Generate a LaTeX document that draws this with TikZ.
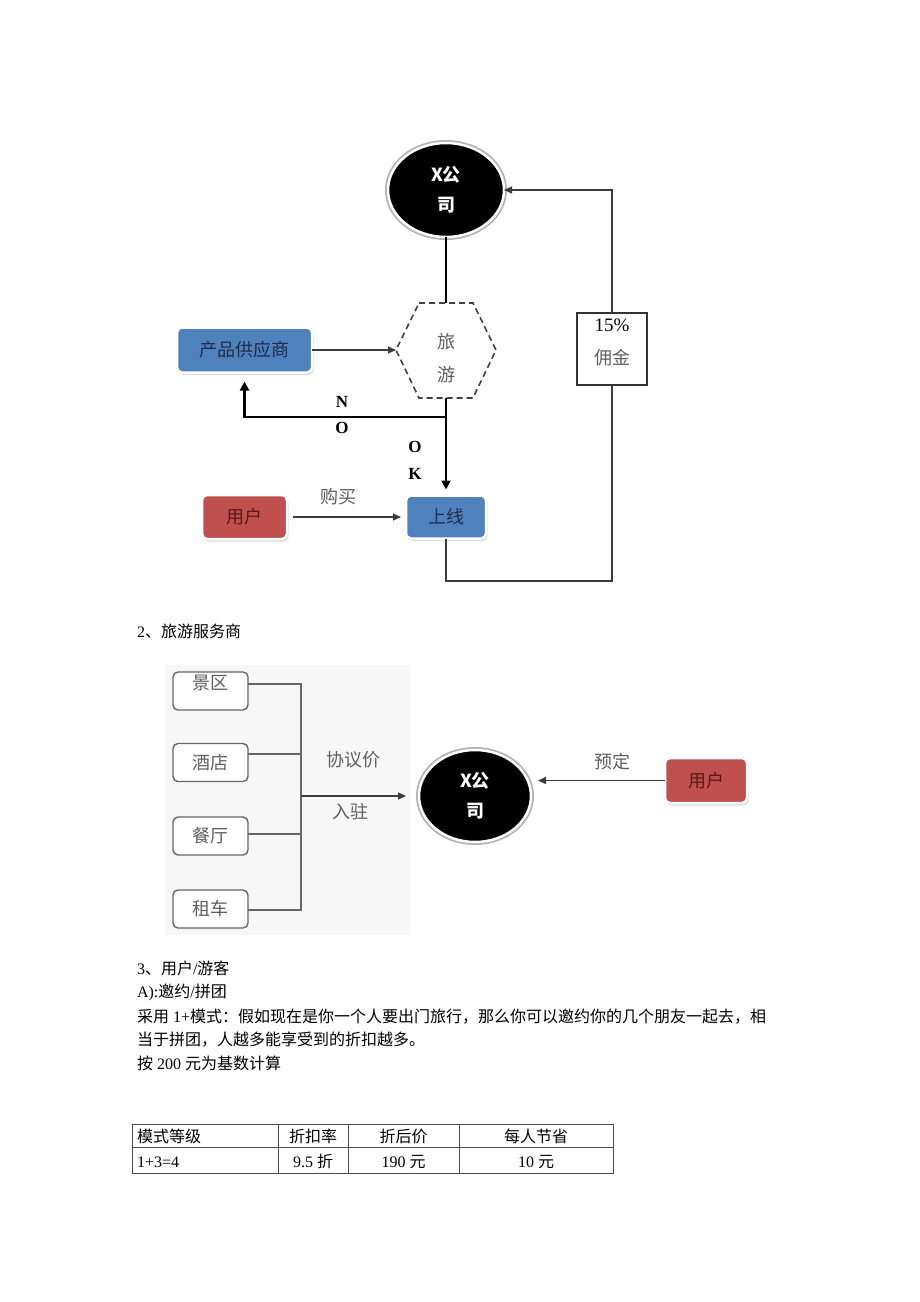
\documentclass[tikz,border=0pt]{standalone}
\usepackage{fontspec}
\setmainfont{Noto Sans CJK SC}
\newfontfamily\latf{Liberation Serif}
\usetikzlibrary{arrows.meta,shapes.geometric,shadows}
\definecolor{boxblue}{RGB}{79,129,189}
\definecolor{boxred}{RGB}{192,80,77}
\definecolor{navytext}{RGB}{30,45,75}
\definecolor{redtext}{RGB}{90,25,25}
\definecolor{graytext}{RGB}{95,95,95}
\definecolor{linegray}{RGB}{60,60,60}
\newcommand\dgf{\fontsize{18}{30}\selectfont}
\newcommand\bdf{\fontsize{16}{20}\selectfont}
\begin{document}
\begin{tikzpicture}[x=1pt,y=-1pt,
 every node/.style={inner sep=0pt, outer sep=0pt},
 txtA/.style={text height=15.8pt, text depth=2.2pt},
 txtB/.style={text height=14.1pt, text depth=1.9pt},
 xco/.style={ellipse, fill=black, draw=white, line width=2.5pt,
   preaction={draw=black!30, line width=6pt},
   minimum width=116pt, minimum height=94pt, text=white, align=center, font=\dgf\bfseries},
 flowbox/.style={rectangle, rounded corners=5pt, draw=white, line width=2.5pt,
   drop shadow={shadow xshift=1.5pt, shadow yshift=-2.5pt, fill=black!30}, font=\dgf, txtA},
 bluebox/.style={flowbox, fill=boxblue, text=navytext},
 redbox/.style={flowbox, fill=boxred, text=redtext},
 conn/.style={draw=linegray, line width=1.2pt},
 tharrow/.style={conn, -{Triangle[length=8pt,width=7pt]}},
 heavy/.style={draw=black, line width=2.6pt},
 heavyarrow/.style={heavy, -{Triangle[length=9pt,width=9pt]}},
 srvbox/.style={rectangle, rounded corners=5pt, draw=black!60, line width=1.4pt, fill=white,
   minimum width=75pt, minimum height=38pt, font=\dgf, text=graytext, txtA},
 lbl/.style={font=\dgf, text=graytext, txtA},
 letter/.style={font={\latf\bfseries\fontsize{17}{17}\selectfont}, text height=11.5pt, text depth=0pt},
 bodytxt/.style={font=\bdf, anchor=base west},
 cell/.style={font=\bdf, txtB},
]
\fill[white] (0,0) rectangle (920,1302);
\useasboundingbox (0,0) rectangle (920,1302);

% ---------- diagram 1 ----------
\node[xco] (x1) at (446,190) {X公\\司};
\node[minimum width=100pt, minimum height=95pt] (hex) at (446,350) {};
\draw[black!75, line width=1.6pt, dash pattern=on 6pt off 4pt]
  (419,303) -- (473,303) -- (496,350) -- (473,398) -- (419,398) -- (396,350) -- cycle;
\node[align=center, font=\fontsize{18}{33}\selectfont, text=graytext] (hext) at (446,358) {旅\\游};

\node[bluebox, minimum width=135pt, minimum height=45pt] (sup) at (244.5,350) {产品供应商};
\node[bluebox, minimum width=80pt, minimum height=43pt] (sx) at (446,517) {上线};
\node[redbox, minimum width=85pt, minimum height=44pt] (u1) at (244.5,517) {用户};
\node[draw=black!80, line width=1.3pt, fill=white, minimum width=70pt, minimum height=72pt] (pct) at (612,349) {};
\node[align=center, font=\fontsize{18}{33}\selectfont] (pctt) at (612,342) {{\latf\fontsize{19}{33}\selectfont 15\%}\\{\color{graytext}佣金}};

\coordinate (jn) at (446,417);
\coordinate (low) at (446,581);

\draw[heavy] (x1.south) -- (hex.north);
\draw[tharrow] (sup.east) -- (hex.west);
\draw[heavy] (hex.south) -- (jn);
\draw[heavyarrow, shorten >=9pt] (jn) -| (sup.south);
\draw[heavyarrow, shorten >=6pt] (jn) -- (sx.north);
\draw[tharrow, shorten <=6pt, shorten >=5pt] (u1.east) -- (sx.west);
\draw[conn] (sx.south) -- (low) -| (pct.south);
\draw[tharrow] (pct.north) |- (x1.east);

\node[letter] (ln) at (342,402) {N};
\node[letter] (lo) at (342,428) {O};
\node[letter] (lo2) at (415,447) {O};
\node[letter] (lk) at (415,474) {K};
\node[lbl] (buy) at (338,497) {购买};

% ---------- section 2 ----------
\node[bodytxt] (s2) at (137,637) {{\latf 2}、旅游服务商};

\fill[black!3] (165,665) rectangle (410,935);
\node[srvbox] (b1) at (210.5,691) {};
\node[lbl] (b1t) at (210.5,683) {景区};
\node[srvbox] (b2) at (210.5,762.5) {酒店};
\node[srvbox] (b3) at (210.5,836) {餐厅};
\node[srvbox] (b4) at (210.5,909) {租车};

\coordinate (bt) at (301,684);
\coordinate (k2) at (301,754);
\coordinate (k3) at (301,834);
\coordinate (bb) at (301,910);
\coordinate (bm) at (301,796);

\node[xco, minimum width=112pt, minimum height=92pt] (x2) at (475,796) {X公\\司};
\node[redbox, minimum width=82pt, minimum height=45pt] (u2) at (706,780.5) {用户};

\draw[conn, draw=black!60] ([yshift=7pt]b1.east) -- (bt) -- (bb) -- ([yshift=-1pt]b4.east);
\draw[conn, draw=black!60] ([yshift=8.5pt]b2.east) -- (k2);
\draw[conn, draw=black!60] ([yshift=2pt]b3.east) -- (k3);
\draw[tharrow, shorten >=13pt] (bm) -- (x2.west);
\draw[tharrow, shorten >=7pt] (u2.west) -- (u2.west -| x2.east);

\node[lbl] (xy) at (353,760) {协议价};
\node[lbl] (rz) at (350,812) {入驻};
\node[lbl] (yd) at (612,762) {预定};

% ---------- section 3 ----------
\node[bodytxt] (s3) at (137,974) {{\latf 3}、用户{\latf /}游客};
\node[bodytxt] (sa) at (137,997) {{\latf A):}邀约{\latf /}拼团};
\node[bodytxt] (p1) at (137,1022) {采用{\latf\ 1+}模式：假如现在是你一个人要出门旅行，那么你可以邀约你的几个朋友一起去，相};
\node[bodytxt] (p2) at (137,1045) {当于拼团，人越多能享受到的折扣越多。};
\node[bodytxt] (p3) at (137,1069) {按{\latf\ 200 }元为基数计算};

% ---------- table ----------
\draw[black!70, line width=1pt] (132,1124) rectangle (613,1173);
\draw[black!70, line width=1pt] (132,1147) -- (613,1147);
\draw[black!70, line width=1pt] (278,1124) -- (278,1173);
\draw[black!70, line width=1pt] (348,1124) -- (348,1173);
\draw[black!70, line width=1pt] (459,1124) -- (459,1173);

\node[cell, anchor=west] (t11) at (137,1136) {模式等级};
\node[cell] (t12) at (313,1136) {折扣率};
\node[cell] (t13) at (403.5,1136) {折后价};
\node[cell] (t14) at (536,1136) {每人节省};
\node[cell, anchor=west] (t21) at (137,1161) {\latf 1+3=4};
\node[cell] (t22) at (313,1161) {{\latf 9.5 }折};
\node[cell] (t23) at (403.5,1161) {{\latf 190 }元};
\node[cell] (t24) at (536,1161) {{\latf 10 }元};
\end{tikzpicture}
\end{document}
